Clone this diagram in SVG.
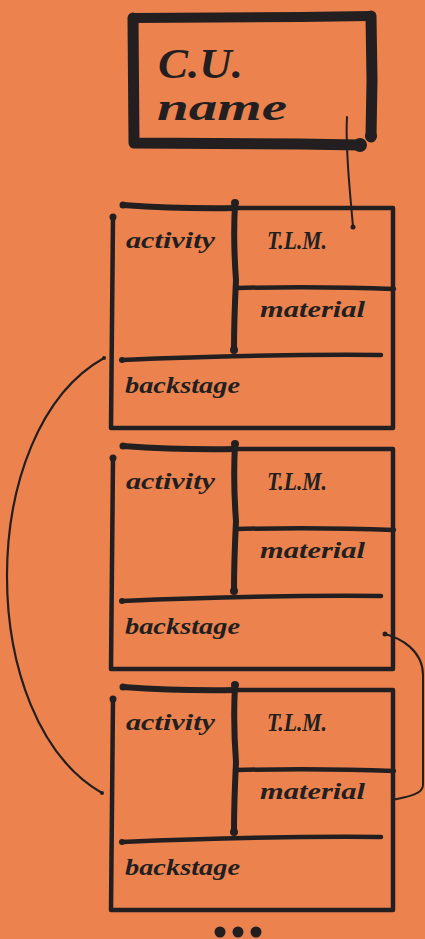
<svg xmlns="http://www.w3.org/2000/svg" width="425" height="939" viewBox="0 0 425 939">
<style>
.ink{fill:none;stroke:#231f20;stroke-linecap:round;stroke-linejoin:round}
.dot{fill:#231f20}
.lbl{font-family:"Liberation Serif",serif;font-style:italic;font-weight:bold;fill:#231f20;font-size:23px}
.tlm{font-size:25px}
.big{font-family:"Liberation Serif",serif;font-style:italic;font-weight:bold;fill:#231f20;font-size:42px}
.nm{font-size:37px}
</style>
<rect width="425" height="939" fill="#ec834f"/>
<g id="cu-name">
<path class="ink" d="M133,18 L300,17 L371,16" stroke-width="10"/>
<path class="ink" d="M133,18 L134,143 L300,144 L360,145" stroke-width="11"/>
<path class="ink" d="M371,16 L372,80 L371,137" stroke-width="11"/>
<circle class="dot" cx="360" cy="145" r="7"/>
<circle class="dot" cx="371" cy="136" r="6"/>
<text class="big" x="158" y="78" textLength="85" lengthAdjust="spacingAndGlyphs">C.U.</text>
<text class="big nm" x="157" y="120" textLength="130" lengthAdjust="spacingAndGlyphs">name</text>
</g>
<g id="card1">
<path class="ink" d="M123,205 Q180,209 240,208 L393,208 L393,428 L111,428 L113,217" stroke-width="4.5"/>
<path class="ink" d="M123,205 Q180,209 235,208" stroke-width="6"/>
<path class="ink" d="M235,204 Q233,240 236,280 Q234,320 234,350" stroke-width="6"/>
<path class="ink" d="M236,288 Q320,286 394,289" stroke-width="4.5"/>
<path class="ink" d="M122,360 Q260,354 381,355" stroke-width="4.5"/>
<circle class="dot" cx="123" cy="205" r="3.5"/><circle class="dot" cx="113" cy="217" r="3.5"/>
<circle class="dot" cx="235" cy="203" r="4"/><circle class="dot" cx="234" cy="350" r="4"/>
<circle class="dot" cx="122" cy="360" r="3"/>
<text class="lbl" x="126" y="248" textLength="89" lengthAdjust="spacingAndGlyphs">activity</text>
<text class="lbl tlm" x="267" y="249" textLength="60" lengthAdjust="spacingAndGlyphs">T.L.M.</text>
<text class="lbl" x="260" y="317" textLength="105" lengthAdjust="spacingAndGlyphs">material</text>
<text class="lbl" x="125" y="393" textLength="115" lengthAdjust="spacingAndGlyphs">backstage</text>
</g>
<g id="card2" transform="translate(0,241)">
<path class="ink" d="M123,205 Q180,209 240,208 L393,208 L393,428 L111,428 L113,217" stroke-width="4.5"/>
<path class="ink" d="M123,205 Q180,209 235,208" stroke-width="6"/>
<path class="ink" d="M235,204 Q233,240 236,280 Q234,320 234,350" stroke-width="6"/>
<path class="ink" d="M236,288 Q320,286 394,289" stroke-width="4.5"/>
<path class="ink" d="M122,360 Q260,354 381,355" stroke-width="4.5"/>
<circle class="dot" cx="123" cy="205" r="3.5"/><circle class="dot" cx="113" cy="217" r="3.5"/>
<circle class="dot" cx="235" cy="203" r="4"/><circle class="dot" cx="234" cy="350" r="4"/>
<circle class="dot" cx="122" cy="360" r="3"/>
<text class="lbl" x="126" y="248" textLength="89" lengthAdjust="spacingAndGlyphs">activity</text>
<text class="lbl tlm" x="267" y="249" textLength="60" lengthAdjust="spacingAndGlyphs">T.L.M.</text>
<text class="lbl" x="260" y="317" textLength="105" lengthAdjust="spacingAndGlyphs">material</text>
<text class="lbl" x="125" y="393" textLength="115" lengthAdjust="spacingAndGlyphs">backstage</text>
</g>
<g id="card3" transform="translate(0,482)">
<path class="ink" d="M123,205 Q180,209 240,208 L393,208 L393,428 L111,428 L113,217" stroke-width="4.5"/>
<path class="ink" d="M123,205 Q180,209 235,208" stroke-width="6"/>
<path class="ink" d="M235,204 Q233,240 236,280 Q234,320 234,350" stroke-width="6"/>
<path class="ink" d="M236,288 Q320,286 394,289" stroke-width="4.5"/>
<path class="ink" d="M122,360 Q260,354 381,355" stroke-width="4.5"/>
<circle class="dot" cx="123" cy="205" r="3.5"/><circle class="dot" cx="113" cy="217" r="3.5"/>
<circle class="dot" cx="235" cy="203" r="4"/><circle class="dot" cx="234" cy="350" r="4"/>
<circle class="dot" cx="122" cy="360" r="3"/>
<text class="lbl" x="126" y="248" textLength="89" lengthAdjust="spacingAndGlyphs">activity</text>
<text class="lbl tlm" x="267" y="249" textLength="60" lengthAdjust="spacingAndGlyphs">T.L.M.</text>
<text class="lbl" x="260" y="317" textLength="105" lengthAdjust="spacingAndGlyphs">material</text>
<text class="lbl" x="125" y="393" textLength="115" lengthAdjust="spacingAndGlyphs">backstage</text>
</g>
<g id="connectors">
<path class="ink" d="M347,117 C345,150 350,190 353,227" stroke-width="2"/>
<circle class="dot" cx="353" cy="227" r="2.5"/>
<path class="ink" d="M104,358 C-25,430 -25,720 102,793" stroke-width="2.2"/>
<circle class="dot" cx="104" cy="358" r="2"/><circle class="dot" cx="102" cy="793" r="2"/>
<path class="ink" d="M385,634 C400,638 423,650 423,675 L423,785 C423,795 405,797 392,800" stroke-width="2"/>
<circle class="dot" cx="385" cy="634" r="2.5"/>
</g>
<g id="more">
<circle class="dot" cx="220" cy="932" r="5.5"/>
<circle class="dot" cx="238" cy="932" r="5.5"/>
<circle class="dot" cx="256" cy="932" r="5.5"/>
</g>
</svg>
